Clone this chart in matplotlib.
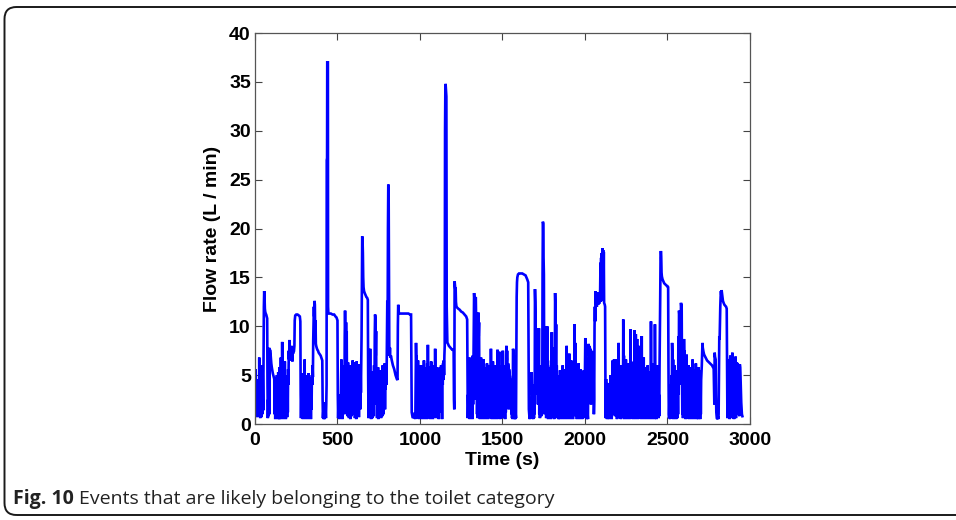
import numpy as np
import matplotlib
matplotlib.use("Agg")
import matplotlib.pyplot as plt
from matplotlib.patches import FancyBboxPatch

# (time in s, flow rate in L/min), one list per 500 s
trace_0000 = [
    (0, 4.3), (2, 1.2), (4, 5.6), (6, 0.8), (8, 4.4), (10, 1.5), (12, 3.8), (14, 0.7), (16, 4.6), (18, 2.0),
    (20, 1.0), (22, 3.9), (24, 0.9), (26, 6.8), (28, 1.5), (30, 4.5), (32, 0.6), (34, 3.0), (36, 1.2), (38, 5.6),
    (40, 0.7), (42, 4.2), (44, 1.0), (46, 6.0), (48, 4.0), (50, 1.4), (52, 6.5), (54, 12.0), (56, 13.6), (58, 13.0),
    (60, 11.8), (62, 11.5), (65, 11.3), (68, 11.2), (71, 11.0), (74, 10.8), (76, 4.0), (78, 0.6), (80, 2.5), (82, 0.8),
    (84, 3.0), (86, 7.8), (88, 1.0), (90, 7.6), (93, 7.5), (96, 6.8), (99, 6.2), (102, 5.8), (105, 5.5), (108, 5.2),
    (111, 5.0), (114, 4.8), (117, 4.6), (119, 1.0), (121, 4.7), (123, 0.5), (125, 4.4), (127, 1.2), (129, 4.6), (131, 0.6),
    (133, 5.0), (135, 0.8), (137, 4.2), (139, 0.5), (141, 5.3), (143, 1.5), (145, 4.8), (147, 0.5), (149, 5.8), (151, 0.9),
    (153, 4.4), (155, 0.5), (157, 6.8), (159, 1.2), (161, 4.5), (163, 0.6), (165, 8.4), (167, 2.0), (169, 5.2), (171, 0.5),
    (173, 4.0), (175, 1.0), (177, 5.5), (179, 0.6), (181, 6.4), (183, 1.5), (185, 4.5), (187, 0.5), (189, 4.8), (191, 1.0),
    (193, 4.2), (195, 0.7), (197, 5.0), (199, 1.2), (201, 5.6), (203, 4.0), (205, 7.5), (207, 6.6), (209, 8.6), (211, 7.0),
    (213, 7.8), (215, 6.8), (217, 7.6), (219, 6.5), (221, 8.0), (223, 6.9), (225, 7.4), (227, 6.4), (229, 7.8), (231, 7.2),
    (233, 7.5), (236, 7.4), (239, 8.0), (241, 10.6), (244, 11.1), (250, 11.2), (258, 11.2), (266, 11.1), (272, 11.0), (275, 10.5),
    (277, 3.0), (279, 0.6), (281, 2.5), (283, 0.8), (285, 4.0), (287, 1.0), (289, 5.2), (291, 0.5), (293, 4.8), (295, 1.5),
    (297, 4.3), (299, 0.6), (301, 6.6), (303, 1.0), (305, 4.5), (307, 0.5), (309, 5.0), (311, 1.2), (313, 4.2), (315, 0.6),
    (317, 4.6), (319, 1.0), (321, 3.9), (323, 0.5), (325, 5.2), (327, 1.4), (329, 4.4), (331, 0.6), (333, 4.0), (335, 1.0),
    (337, 4.8), (339, 0.5), (341, 4.4), (343, 1.5), (345, 5.0), (347, 4.0), (349, 6.0), (351, 4.8), (353, 8.5), (355, 10.0),
    (357, 12.0), (359, 11.0), (361, 12.6), (363, 12.2), (365, 9.5), (367, 10.6), (369, 8.2), (371, 8.0), (374, 7.8), (378, 7.6),
    (382, 7.5), (386, 7.3), (390, 7.2), (394, 7.1), (398, 7.0), (402, 6.8), (406, 6.6), (408, 6.5), (410, 2.5), (412, 0.6),
    (414, 1.2), (416, 0.5), (418, 1.0), (420, 2.2), (422, 0.5), (424, 1.8), (426, 0.8), (428, 1.5), (430, 0.6), (432, 2.0),
    (434, 4.0), (435, 27.0), (437, 27.2), (438, 37.0), (442, 37.0), (443, 12.0), (445, 11.3), (450, 11.3), (460, 11.3), (470, 11.2),
    (480, 11.2), (488, 11.0), (494, 10.9), (498, 10.7),
]

trace_0500 = [
    (500, 10.6), (502, 3.0), (504, 0.6), (506, 2.0), (508, 0.8), (510, 2.5), (512, 0.5), (514, 1.8), (516, 0.7), (518, 3.0),
    (520, 1.0), (522, 4.5), (524, 6.6), (526, 1.2), (528, 3.5), (530, 0.5), (532, 5.0), (534, 1.5), (536, 6.0), (538, 2.5),
    (540, 4.8), (542, 1.0), (544, 9.0), (546, 11.6), (548, 9.5), (550, 3.0), (552, 10.4), (554, 6.0), (556, 9.5), (558, 2.0),
    (560, 5.5), (562, 0.8), (564, 6.3), (566, 1.5), (568, 4.5), (570, 0.6), (572, 5.8), (574, 1.2), (576, 4.0), (578, 0.5),
    (580, 6.0), (582, 2.0), (584, 4.5), (586, 0.8), (588, 5.2), (590, 1.5), (592, 6.5), (594, 3.0), (596, 5.8), (598, 1.0),
    (600, 6.2), (602, 2.5), (604, 5.5), (606, 0.6), (608, 6.3), (610, 1.8), (612, 5.4), (614, 0.5), (616, 6.4), (618, 3.0),
    (620, 5.8), (622, 1.2), (624, 6.0), (626, 2.0), (628, 5.5), (630, 0.7), (632, 6.1), (634, 4.0), (636, 5.0), (638, 1.5),
    (640, 5.8), (642, 3.2), (644, 6.0), (646, 9.0), (648, 15.0), (650, 19.2), (652, 18.8), (654, 17.5), (656, 15.0), (658, 14.0),
    (661, 13.6), (665, 13.4), (670, 13.2), (675, 13.0), (680, 12.9), (684, 12.7), (686, 5.0), (688, 0.6), (690, 2.5), (692, 0.8),
    (694, 4.0), (696, 1.2), (698, 7.7), (700, 2.0), (702, 5.0), (704, 0.5), (706, 4.2), (708, 1.0), (710, 5.4), (712, 0.6),
    (714, 3.6), (716, 1.5), (718, 4.8), (720, 0.8), (722, 6.0), (724, 2.0), (726, 9.0), (728, 11.2), (730, 10.8), (732, 7.0),
    (734, 9.5), (736, 3.0), (738, 5.5), (740, 0.6), (742, 4.5), (744, 1.0), (746, 5.8), (748, 0.5), (750, 4.0), (752, 1.5),
    (754, 5.2), (756, 0.7), (758, 4.6), (760, 2.0), (762, 5.5), (764, 0.6), (766, 4.2), (768, 1.2), (770, 5.0), (772, 0.8),
    (774, 6.0), (776, 2.5), (778, 4.5), (780, 1.0), (782, 5.8), (784, 3.0), (786, 6.2), (788, 1.5), (790, 5.0), (792, 3.5),
    (794, 6.0), (796, 4.0), (798, 5.5), (800, 9.0), (802, 12.6), (804, 10.0), (806, 20.0), (808, 24.5), (810, 24.3), (812, 15.0),
    (814, 8.0), (816, 7.0), (818, 7.8), (820, 6.8), (824, 7.0), (828, 6.6), (832, 6.3), (836, 6.0), (840, 5.8), (844, 5.6),
    (848, 5.3), (852, 5.0), (856, 4.8), (860, 4.6), (864, 4.5), (866, 10.0), (868, 12.2), (870, 12.0), (872, 11.3), (880, 11.3),
    (890, 11.3), (900, 11.3), (910, 11.3), (920, 11.3), (930, 11.3), (940, 11.2), (946, 11.2), (948, 6.0), (950, 1.2), (954, 0.8),
    (958, 0.6), (962, 0.9), (966, 0.6), (970, 1.2), (972, 0.5), (974, 4.0), (976, 8.3), (978, 6.5), (980, 7.0), (982, 1.0),
    (984, 5.5), (986, 0.6), (988, 6.5), (990, 2.0), (992, 5.0), (994, 0.5), (996, 6.0), (998, 1.5),
]

trace_1000 = [
    (1000, 5.2), (1002, 0.8), (1004, 4.5), (1006, 1.8), (1008, 6.0), (1010, 0.5), (1012, 4.2), (1014, 2.0), (1016, 5.5), (1018, 0.7),
    (1020, 4.8), (1022, 1.2), (1024, 6.5), (1026, 0.5), (1028, 3.8), (1030, 1.5), (1032, 5.8), (1034, 0.6), (1036, 4.4), (1038, 2.2),
    (1040, 5.0), (1042, 0.5), (1044, 6.2), (1046, 1.0), (1048, 8.1), (1050, 3.0), (1052, 5.5), (1054, 0.6), (1056, 4.6), (1058, 1.4),
    (1060, 5.9), (1062, 0.5), (1064, 4.0), (1066, 2.5), (1068, 6.4), (1070, 0.8), (1072, 4.2), (1074, 1.2), (1076, 5.6), (1078, 0.5),
    (1080, 4.8), (1082, 2.0), (1084, 6.0), (1086, 0.7), (1088, 5.2), (1090, 1.5), (1092, 7.7), (1094, 3.0), (1096, 5.5), (1098, 0.6),
    (1100, 5.8), (1102, 4.0), (1104, 5.6), (1106, 1.0), (1108, 5.2), (1110, 3.5), (1112, 5.0), (1114, 0.5), (1116, 5.4), (1118, 4.2),
    (1120, 5.8), (1122, 2.0), (1124, 5.0), (1126, 4.4), (1128, 6.0), (1130, 1.2), (1132, 4.8), (1134, 0.5), (1136, 5.5), (1138, 4.0),
    (1140, 6.2), (1142, 4.5), (1144, 6.5), (1146, 5.0), (1148, 7.0), (1150, 8.0), (1152, 30.0), (1154, 34.8), (1156, 34.6), (1158, 34.0),
    (1160, 33.5), (1162, 12.0), (1164, 10.0), (1166, 8.3), (1170, 8.2), (1175, 8.0), (1180, 7.9), (1185, 7.8), (1190, 7.7), (1195, 7.6),
    (1200, 7.6), (1204, 7.5), (1206, 2.5), (1208, 1.5), (1210, 14.6), (1212, 14.2), (1214, 13.8), (1216, 14.0), (1218, 12.5), (1221, 12.0),
    (1226, 11.9), (1232, 11.8), (1240, 11.7), (1250, 11.5), (1260, 11.4), (1270, 11.2), (1280, 11.0), (1286, 10.7), (1288, 5.0), (1290, 0.6),
    (1292, 3.0), (1294, 0.8), (1296, 5.5), (1298, 1.5), (1300, 6.8), (1302, 0.5), (1304, 4.6), (1306, 2.0), (1308, 5.2), (1310, 0.7),
    (1312, 6.0), (1314, 1.2), (1316, 4.4), (1318, 0.5), (1320, 7.0), (1322, 2.0), (1324, 5.5), (1326, 9.0), (1328, 13.4), (1330, 12.8),
    (1332, 6.0), (1334, 10.5), (1336, 2.5), (1338, 13.0), (1340, 11.0), (1342, 4.0), (1344, 7.5), (1346, 1.0), (1348, 5.0), (1350, 0.6),
    (1352, 8.0), (1354, 11.4), (1356, 9.0), (1358, 10.4), (1360, 3.5), (1362, 6.0), (1364, 0.5), (1366, 4.5), (1368, 1.5), (1370, 6.8),
    (1372, 0.8), (1374, 4.2), (1376, 2.2), (1378, 5.6), (1380, 0.5), (1382, 4.0), (1384, 1.2), (1386, 6.6), (1388, 0.6), (1390, 5.0),
    (1392, 2.5), (1394, 4.6), (1396, 0.5), (1398, 5.8), (1400, 1.5), (1402, 4.4), (1404, 0.7), (1406, 6.2), (1408, 2.0), (1410, 4.8),
    (1412, 0.5), (1414, 5.5), (1416, 1.0), (1418, 4.0), (1420, 0.6), (1422, 6.0), (1424, 2.5), (1426, 5.2), (1428, 0.8), (1430, 7.7),
    (1432, 3.0), (1434, 5.0), (1436, 0.5), (1438, 4.5), (1440, 1.8), (1442, 6.4), (1444, 0.6), (1446, 4.2), (1448, 1.2), (1450, 5.6),
    (1452, 0.5), (1454, 4.8), (1456, 2.0), (1458, 6.0), (1460, 0.7), (1462, 4.4), (1464, 1.5), (1466, 5.8), (1468, 0.5), (1470, 7.6),
    (1472, 2.2), (1474, 5.0), (1476, 0.8), (1478, 4.6), (1480, 7.4), (1482, 1.0), (1484, 5.5), (1486, 0.5), (1488, 4.2), (1490, 1.6),
    (1492, 6.0), (1494, 0.6), (1496, 5.2), (1498, 1.2),
]

trace_1500 = [
    (1500, 4.8), (1502, 7.5), (1504, 1.0), (1506, 5.0), (1508, 0.6), (1510, 6.0), (1512, 2.0), (1514, 4.2), (1516, 0.5), (1518, 5.5),
    (1520, 1.2), (1522, 7.0), (1524, 8.0), (1526, 6.5), (1528, 7.5), (1530, 6.4), (1532, 3.0), (1534, 6.2), (1536, 5.8), (1538, 1.5),
    (1540, 5.6), (1542, 5.2), (1544, 5.0), (1546, 4.8), (1548, 2.0), (1550, 4.6), (1552, 4.4), (1554, 1.0), (1556, 4.5), (1558, 0.6),
    (1560, 1.5), (1562, 0.5), (1564, 7.7), (1566, 7.5), (1568, 3.0), (1570, 7.0), (1572, 1.0), (1574, 0.5), (1576, 0.8), (1578, 0.5),
    (1580, 1.0), (1582, 0.6), (1584, 6.0), (1586, 13.0), (1588, 14.5), (1590, 15.0), (1594, 15.3), (1600, 15.4), (1610, 15.4), (1620, 15.4),
    (1630, 15.3), (1640, 15.2), (1645, 15.0), (1650, 14.8), (1656, 14.5), (1658, 8.0), (1660, 1.5), (1663, 0.8), (1666, 0.5), (1669, 1.0),
    (1672, 0.6), (1675, 1.5), (1677, 5.3), (1679, 3.0), (1681, 4.0), (1683, 0.8), (1686, 0.5), (1689, 1.2), (1691, 0.6), (1693, 4.0),
    (1695, 1.0), (1697, 13.8), (1699, 12.5), (1701, 10.0), (1703, 6.0), (1705, 9.8), (1707, 3.0), (1709, 9.5), (1711, 4.5), (1713, 8.5),
    (1715, 2.0), (1717, 7.8), (1719, 5.0), (1721, 9.8), (1723, 1.0), (1725, 5.5), (1727, 0.6), (1729, 3.5), (1731, 1.5), (1733, 6.0),
    (1735, 0.8), (1737, 4.5), (1739, 1.2), (1741, 2.5), (1743, 15.4), (1745, 20.7), (1747, 20.5), (1749, 17.0), (1751, 15.3), (1753, 4.0),
    (1755, 1.0), (1757, 6.5), (1759, 10.0), (1761, 3.0), (1763, 6.5), (1765, 0.6), (1767, 9.6), (1769, 4.0), (1771, 10.0), (1773, 1.5),
    (1775, 6.0), (1777, 0.5), (1779, 5.0), (1781, 2.0), (1783, 4.2), (1785, 0.8), (1787, 5.8), (1789, 1.5), (1791, 4.0), (1793, 0.5),
    (1795, 6.5), (1797, 2.5), (1799, 9.4), (1801, 3.0), (1803, 5.5), (1805, 0.7), (1807, 7.8), (1809, 1.5), (1811, 4.5), (1813, 0.5),
    (1815, 6.0), (1817, 2.0), (1819, 13.4), (1821, 12.0), (1823, 5.0), (1825, 10.2), (1827, 1.0), (1829, 6.0), (1831, 0.6), (1833, 4.0),
    (1835, 1.5), (1837, 5.0), (1839, 0.5), (1841, 3.5), (1843, 1.2), (1845, 4.8), (1847, 0.5), (1849, 5.5), (1851, 2.0), (1853, 4.0),
    (1855, 0.6), (1857, 5.2), (1859, 1.0), (1861, 4.5), (1863, 0.5), (1865, 6.0), (1867, 2.5), (1869, 4.2), (1871, 0.8), (1873, 5.0),
    (1875, 1.5), (1877, 4.4), (1879, 0.5), (1881, 5.6), (1883, 1.2), (1885, 4.0), (1887, 0.6), (1889, 8.0), (1891, 3.0), (1893, 5.0),
    (1895, 0.5), (1897, 6.2), (1899, 1.8), (1901, 4.6), (1903, 0.7), (1905, 7.2), (1907, 2.0), (1909, 5.4), (1911, 0.5), (1913, 4.0),
    (1915, 1.4), (1917, 6.5), (1919, 0.6), (1921, 4.8), (1923, 2.2), (1925, 5.6), (1927, 0.5), (1929, 4.2), (1931, 1.0), (1933, 5.8),
    (1935, 3.0), (1937, 10.2), (1939, 5.5), (1941, 8.3), (1943, 0.8), (1945, 5.0), (1947, 1.5), (1949, 4.4), (1951, 0.5), (1953, 6.0),
    (1955, 2.0), (1957, 4.6), (1959, 0.6), (1961, 6.2), (1963, 1.2), (1965, 5.0), (1967, 0.5), (1969, 4.0), (1971, 2.5), (1973, 5.6),
    (1975, 0.7), (1977, 4.4), (1979, 1.5), (1981, 5.2), (1983, 0.5), (1985, 3.8), (1987, 1.0), (1989, 4.8), (1991, 0.6), (1993, 5.5),
    (1995, 2.0), (1997, 4.2), (1999, 0.8),
]

trace_2000 = [
    (2000, 5.5), (2002, 8.8), (2004, 4.5), (2006, 6.0), (2008, 1.0), (2010, 0.5), (2012, 1.2), (2014, 0.6), (2016, 1.0), (2018, 0.5),
    (2020, 6.5), (2022, 8.2), (2024, 7.0), (2026, 8.0), (2028, 3.0), (2030, 7.8), (2032, 6.5), (2034, 7.6), (2036, 2.0), (2038, 7.5),
    (2040, 7.2), (2042, 6.0), (2044, 7.4), (2046, 7.0), (2048, 6.8), (2050, 7.2), (2052, 6.6), (2054, 1.0), (2056, 2.5), (2058, 10.0),
    (2060, 12.0), (2062, 10.5), (2064, 13.6), (2066, 13.0), (2068, 12.2), (2070, 12.5), (2072, 12.0), (2074, 13.2), (2076, 12.4), (2078, 12.8),
    (2080, 12.2), (2082, 13.5), (2084, 12.6), (2086, 12.3), (2088, 13.0), (2090, 12.5), (2092, 13.8), (2094, 16.5), (2096, 12.5), (2098, 17.0),
    (2100, 13.0), (2102, 17.5), (2104, 12.8), (2106, 18.0), (2108, 13.5), (2110, 17.8), (2112, 12.6), (2114, 17.6), (2116, 12.4), (2118, 12.3),
    (2120, 12.2), (2122, 12.0), (2124, 4.0), (2126, 0.6), (2128, 4.6), (2130, 1.0), (2132, 3.5), (2134, 0.5), (2136, 4.2), (2138, 2.0),
    (2140, 0.6), (2142, 3.8), (2144, 1.5), (2146, 0.5), (2148, 4.0), (2150, 1.0), (2152, 2.5), (2154, 0.6), (2156, 5.0), (2158, 1.2),
    (2160, 3.0), (2162, 0.5), (2164, 4.5), (2166, 2.0), (2168, 6.5), (2170, 3.0), (2172, 6.4), (2174, 1.0), (2176, 6.6), (2178, 4.0),
    (2180, 6.5), (2182, 0.8), (2184, 6.4), (2186, 2.5), (2188, 6.6), (2190, 1.2), (2192, 6.3), (2194, 0.5), (2196, 6.5), (2198, 3.5),
    (2200, 6.4), (2202, 1.0), (2204, 8.3), (2206, 2.0), (2208, 5.5), (2210, 0.6), (2212, 4.4), (2214, 1.5), (2216, 6.0), (2218, 0.5),
    (2220, 4.8), (2222, 2.0), (2224, 5.2), (2226, 0.7), (2228, 4.0), (2230, 1.2), (2232, 10.7), (2234, 4.5), (2236, 7.0), (2238, 0.5),
    (2240, 5.8), (2242, 1.8), (2244, 4.2), (2246, 0.6), (2248, 6.6), (2250, 1.0), (2252, 4.6), (2254, 0.5), (2256, 5.4), (2258, 2.2),
    (2260, 4.0), (2262, 0.8), (2264, 6.2), (2266, 1.5), (2268, 4.8), (2270, 0.5), (2272, 5.6), (2274, 2.0), (2276, 9.7), (2278, 3.0),
    (2280, 6.0), (2282, 0.6), (2284, 4.4), (2286, 1.2), (2288, 5.8), (2290, 0.5), (2292, 4.0), (2294, 2.5), (2296, 6.4), (2298, 0.7),
    (2300, 9.6), (2302, 3.5), (2304, 5.0), (2306, 0.5), (2308, 9.2), (2310, 2.0), (2312, 5.5), (2314, 0.6), (2316, 8.7), (2318, 1.5),
    (2320, 4.6), (2322, 0.5), (2324, 6.0), (2326, 2.0), (2328, 8.0), (2330, 1.0), (2332, 4.2), (2334, 0.6), (2336, 5.8), (2338, 2.5),
    (2340, 4.0), (2342, 0.5), (2344, 9.0), (2346, 1.8), (2348, 5.2), (2350, 0.7), (2352, 4.4), (2354, 1.2), (2356, 6.8), (2358, 0.5),
    (2360, 4.8), (2362, 2.0), (2364, 5.5), (2366, 0.6), (2368, 4.0), (2370, 1.5), (2372, 5.8), (2374, 0.5), (2376, 4.6), (2378, 2.2),
    (2380, 6.0), (2382, 0.8), (2384, 4.2), (2386, 1.0), (2388, 5.4), (2390, 0.5), (2392, 4.4), (2394, 2.0), (2396, 5.0), (2398, 0.6),
    (2400, 10.5), (2402, 3.0), (2404, 5.6), (2406, 0.5), (2408, 4.0), (2410, 1.5), (2412, 6.2), (2414, 0.7), (2416, 4.8), (2418, 2.0),
    (2420, 5.2), (2422, 0.5), (2424, 10.2), (2426, 4.0), (2428, 6.0), (2430, 1.0), (2432, 4.5), (2434, 0.5), (2436, 5.5), (2438, 2.5),
    (2440, 6.0), (2442, 1.0), (2444, 5.0), (2446, 0.6), (2448, 3.0), (2450, 0.8), (2452, 6.0), (2454, 9.0), (2456, 13.0), (2458, 17.0),
    (2460, 17.7), (2462, 17.2), (2464, 15.5), (2466, 15.1), (2470, 14.8), (2475, 14.6), (2480, 14.4), (2486, 14.3), (2492, 14.2), (2498, 14.1),
]

trace_2500 = [
    (2500, 14.1), (2504, 14.0), (2506, 6.0), (2508, 1.0), (2510, 0.6), (2512, 2.9), (2514, 0.8), (2516, 0.5), (2518, 1.5), (2520, 4.0),
    (2522, 0.6), (2524, 5.0), (2526, 1.0), (2528, 8.3), (2530, 7.0), (2532, 2.0), (2534, 6.6), (2536, 0.5), (2538, 4.5), (2540, 1.2),
    (2542, 6.0), (2544, 0.8), (2546, 4.8), (2548, 2.0), (2550, 4.6), (2552, 0.5), (2554, 5.5), (2556, 1.5), (2558, 4.2), (2560, 0.6),
    (2562, 5.0), (2564, 1.0), (2566, 9.0), (2568, 3.0), (2570, 11.6), (2572, 11.2), (2574, 11.5), (2576, 4.0), (2578, 11.4), (2580, 9.5),
    (2582, 12.4), (2584, 12.0), (2586, 12.2), (2588, 5.0), (2590, 1.0), (2592, 4.0), (2594, 0.6), (2596, 5.2), (2598, 1.5), (2600, 8.7),
    (2602, 6.0), (2604, 7.5), (2606, 1.0), (2608, 5.0), (2610, 0.5), (2612, 4.6), (2614, 2.0), (2616, 7.1), (2618, 1.0), (2620, 5.5),
    (2622, 0.6), (2624, 4.2), (2626, 1.8), (2628, 6.0), (2630, 0.5), (2632, 4.8), (2634, 2.5), (2636, 5.4), (2638, 0.7), (2640, 4.5),
    (2642, 1.2), (2644, 5.8), (2646, 0.5), (2648, 4.0), (2650, 1.5), (2652, 6.6), (2654, 0.6), (2656, 5.0), (2658, 2.0), (2660, 4.4),
    (2662, 0.5), (2664, 5.6), (2666, 1.0), (2668, 4.2), (2670, 0.6), (2672, 6.2), (2674, 2.5), (2676, 4.6), (2678, 0.5), (2680, 5.2),
    (2682, 1.2), (2684, 4.0), (2686, 0.5), (2688, 5.8), (2690, 1.8), (2692, 4.8), (2694, 0.6), (2696, 5.0), (2698, 0.5), (2700, 5.5),
    (2702, 1.0), (2704, 4.5), (2708, 6.0), (2712, 8.3), (2714, 7.8), (2718, 7.4), (2722, 7.1), (2728, 6.9), (2734, 6.7), (2740, 6.5),
    (2746, 6.4), (2752, 6.3), (2758, 6.2), (2764, 6.1), (2770, 6.0), (2776, 5.8), (2780, 5.7), (2782, 4.0), (2784, 2.0), (2786, 7.3),
    (2788, 6.9), (2792, 6.6), (2794, 3.0), (2796, 1.2), (2799, 0.6), (2802, 0.5), (2805, 0.8), (2808, 0.5), (2810, 1.0), (2812, 5.0),
    (2814, 9.0), (2816, 8.6), (2818, 10.5), (2820, 12.0), (2822, 13.0), (2824, 13.6), (2826, 13.2), (2828, 13.7), (2830, 13.4), (2832, 13.0),
    (2834, 12.8), (2836, 12.6), (2840, 12.4), (2845, 12.2), (2850, 12.1), (2855, 12.0), (2859, 11.8), (2861, 6.0), (2863, 1.0), (2865, 0.6),
    (2867, 6.6), (2869, 6.5), (2871, 1.5), (2873, 6.6), (2875, 6.5), (2877, 0.5), (2879, 6.4), (2881, 7.0), (2883, 3.0), (2885, 6.5),
    (2887, 6.4), (2889, 0.6), (2891, 6.3), (2893, 7.3), (2895, 6.5), (2897, 2.0), (2899, 6.4), (2901, 6.3), (2903, 0.5), (2905, 6.4),
    (2907, 6.3), (2909, 4.0), (2911, 6.3), (2913, 6.9), (2915, 0.6), (2917, 6.3), (2919, 6.2), (2921, 6.3), (2923, 1.0), (2925, 6.2),
    (2927, 6.1), (2929, 3.0), (2931, 6.1), (2933, 6.0), (2935, 0.8), (2937, 6.0), (2939, 6.1), (2941, 5.8), (2943, 4.5), (2945, 3.2),
    (2947, 2.2), (2949, 1.5), (2951, 1.0), (2954, 0.8),
]

x_ticks = [0, 500, 1000, 1500, 2000, 2500, 3000]
y_ticks = [0, 5, 10, 15, 20, 25, 30, 35, 40]
x_label = "Time (s)"
y_label = "Flow rate (L / min)"
caption_bold = "Fig. 10"
caption_rest = "Events that are likely belonging to the toilet category"

AXIS_FONT = ["Liberation Sans Narrow", "Liberation Sans", "DejaVu Sans"]
CAPTION_FONT = ["Open Sans", "DejaVu Sans"]


def main():
    pts = np.array(trace_0000 + trace_0500 + trace_1000 + trace_1500 + trace_2000 + trace_2500)
    t, q = pts[:, 0], pts[:, 1]

    fig = plt.figure(figsize=(9.56, 5.2), dpi=100)
    fig.patch.set_facecolor("white")

    # rounded figure frame (runs off the right edge like the page scan)
    frame = FancyBboxPatch((0.045, 0.05), 9.9, 5.08,
                           boxstyle="round,pad=0,rounding_size=0.12",
                           transform=fig.dpi_scale_trans, fill=False,
                           edgecolor="#1a1a1a", linewidth=1.4)
    fig.add_artist(frame)

    ax = fig.add_axes([0.2667, 0.1846, 0.5178, 0.7519])
    ax.plot(t, q, color="#0000ff", linewidth=1.9, solid_joinstyle="miter")
    ax.set_xlim(0, 3000)
    ax.set_ylim(0, 40)
    ax.set_xticks(x_ticks)
    ax.set_yticks(y_ticks)
    ax.tick_params(direction="in", top=True, right=True, length=5, width=0.8,
                   color="#444444", labelsize=14)
    ax.tick_params(axis="x", pad=6)
    ax.tick_params(axis="y", pad=3)
    for lbl in ax.get_xticklabels() + ax.get_yticklabels():
        lbl.set_fontfamily(AXIS_FONT)
        lbl.set_fontweight("bold")
    for s in ax.spines.values():
        s.set_color("#555555")
        s.set_linewidth(0.9)

    ax.set_xlabel(x_label, fontsize=14, fontweight="bold", family=AXIS_FONT, labelpad=2)
    ax.set_ylabel(y_label, fontsize=14, fontweight="bold", family=AXIS_FONT, labelpad=6)

    # caption: bold figure number followed by plain text
    renderer = fig.canvas.get_renderer()
    cb = fig.text(13 / 956, 1 - 499 / 520, caption_bold, fontsize=14, fontweight="bold",
                  family=CAPTION_FONT, va="center", ha="left", color="#222222")
    bb = cb.get_window_extent(renderer=renderer)
    fig.text((bb.x1 + 5) / 956, 1 - 499 / 520, caption_rest, fontsize=14,
             family=CAPTION_FONT, va="center", ha="left", color="#222222")

    fig.savefig("out.png", dpi=100, facecolor="white")
    plt.close(fig)


if __name__ == "__main__":
    main()
